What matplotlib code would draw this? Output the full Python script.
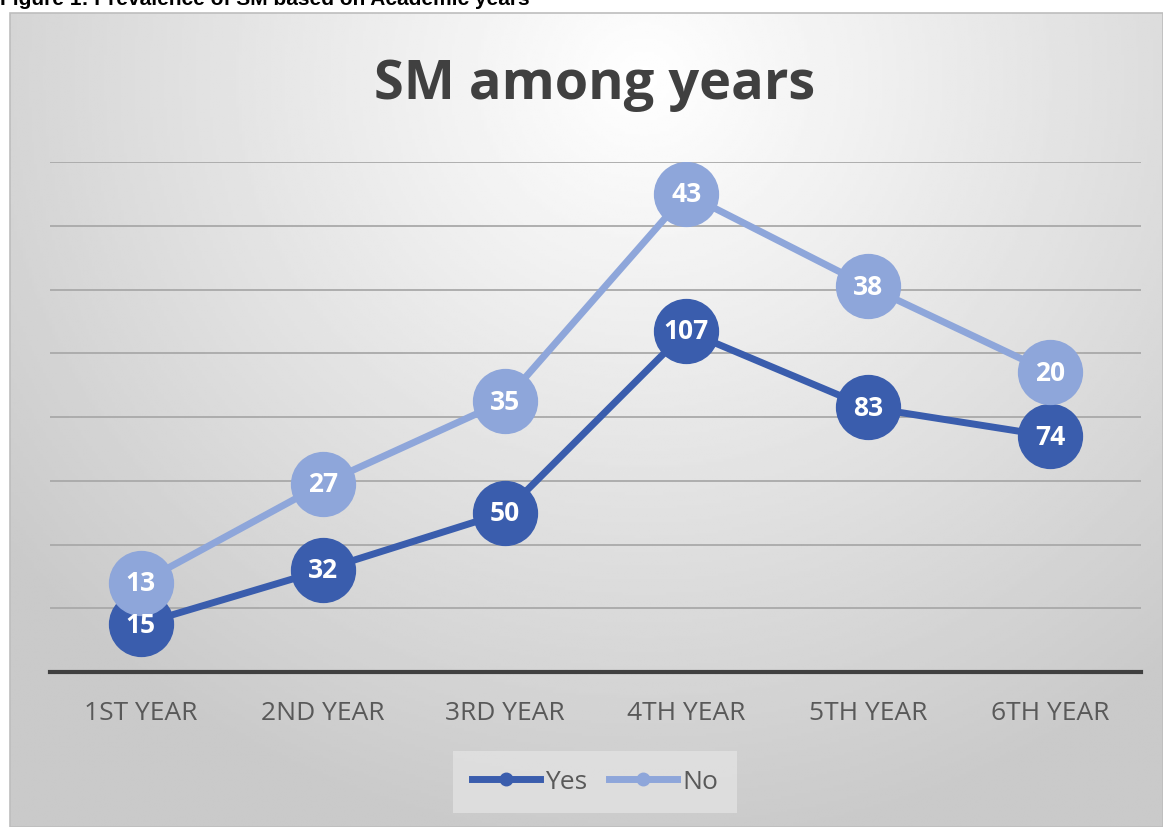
import matplotlib.pyplot as plt
import numpy as np
from matplotlib.lines import Line2D
from matplotlib.patches import Rectangle

years = ["1ST YEAR", "2ND YEAR", "3RD YEAR", "4TH YEAR", "5TH YEAR", "6TH YEAR"]
yes_counts = [15, 32, 50, 107, 83, 74]
no_counts = [13, 27, 35, 43, 38, 20]

YES_COLOR = "#3A5DAD"
NO_COLOR = "#8EA6DA"
TEXT_COLOR = "#595959"

W, H = 1163, 828
fig = plt.figure(figsize=(W / 100, H / 100), dpi=100)
fig.patch.set_facecolor("white")

# ---- chart area: radial grey gradient like the Excel chart style ----
x0, y0 = 10, 14  # top-left corner of the chart box in pixels
bg = fig.add_axes([x0 / W, 0, 1 - x0 / W, 1 - y0 / H], zorder=0)
gx, gy = np.meshgrid(np.linspace(0, 1, 400), np.linspace(0, 1, 300))
dist = np.sqrt(((gx - 0.55) * 1.15) ** 2 + ((gy - 0.08) * 0.85) ** 2)
shade = np.clip(1.0 - 0.26 * dist, 0.79, 1.0)
bg.imshow(shade, cmap="gray", vmin=0, vmax=1, aspect="auto", extent=(0, 1, 1, 0))
bg.set_axis_off()
fig.patches.append(Rectangle((x0 / W, 0), 1 - x0 / W, 1 - y0 / H, transform=fig.transFigure,
                             fill=False, edgecolor="#bdbdbd", lw=1.2, zorder=1))

# ---- plot area ----
ax = fig.add_axes([50 / W, 1 - 673 / H, 1091 / W, 510 / H], zorder=2)
ax.patch.set_alpha(0)

x = np.arange(len(years))
stacked_no = np.array(yes_counts) + np.array(no_counts)  # stacked line chart

ax.plot(x, yes_counts, color=YES_COLOR, lw=5, marker="o", ms=46,
        mec=YES_COLOR, zorder=3, solid_capstyle="round")
ax.plot(x, stacked_no, color=NO_COLOR, lw=5, marker="o", ms=46,
        mec=NO_COLOR, zorder=4, solid_capstyle="round")

for xi, y, v in zip(x, yes_counts, yes_counts):
    ax.text(xi, y, str(v), ha="center", va="center", color="white",
            fontsize=19, fontweight="bold", family="Open Sans", zorder=5)
for xi, y, v in zip(x, stacked_no, no_counts):
    ax.text(xi, y, str(v), ha="center", va="center", color="white",
            fontsize=19, fontweight="bold", family="Open Sans", zorder=6)

ax.set_xlim(-0.5, len(years) - 0.5)
ax.set_ylim(0, 160)
ax.set_yticks(np.arange(20, 161, 20))
ax.yaxis.grid(True, color="#a9a9a9", lw=1.3)
ax.set_axisbelow(True)
ax.tick_params(axis="y", left=False, labelleft=False)
ax.tick_params(axis="x", length=0, pad=20, labelsize=19, labelcolor=TEXT_COLOR)
ax.set_xticks(x)
ax.set_xticklabels(years, family="Open Sans")
for side in ("top", "right", "left"):
    ax.spines[side].set_visible(False)
ax.spines["bottom"].set_color("#404040")
ax.spines["bottom"].set_linewidth(3)

fig.text(595 / W, 1 - 85 / H, "SM among years", ha="center", va="center",
         fontsize=39, fontweight="bold", family="Open Sans", color="#404040")

handles = [
    Line2D([0], [0], color=YES_COLOR, lw=5, marker="o", ms=9),
    Line2D([0], [0], color=NO_COLOR, lw=5, marker="o", ms=9),
]
leg = fig.legend(handles, ["Yes", "No"], loc="center", bbox_to_anchor=(595 / W, 1 - 783 / H),
                 ncol=2, frameon=True, fancybox=False, handlelength=2.6, handletextpad=0.2,
                 columnspacing=0.8, borderpad=0.7,
                 prop={"family": "Open Sans", "size": 19})
leg.get_frame().set_facecolor("#e2e2e2")
leg.get_frame().set_edgecolor("none")
for t in leg.get_texts():
    t.set_color(TEXT_COLOR)

# caption above the chart, clipped by the image edge as in the source
fig.text(0, 1 - 5 / H, "Figure 1: Prevalence of SM based on Academic years", ha="left",
         va="baseline", fontsize=15, fontweight="bold", family="Liberation Sans", color="black")

fig.savefig("out.png", dpi=100)
